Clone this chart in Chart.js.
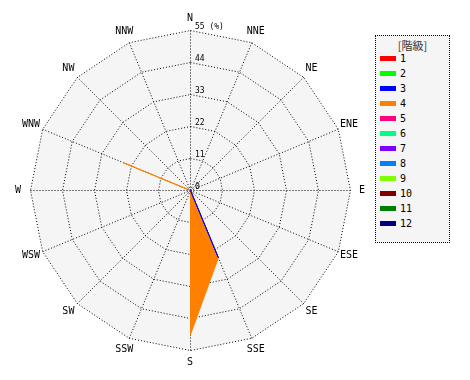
<!DOCTYPE html>
<html>
<head>
<meta charset="utf-8">
<script src="https://cdn.jsdelivr.net/npm/chart.js@4"></script>
<style>
  html, body { margin: 0; padding: 0; background: #fff; }
  #wrap { position: relative; width: 470px; height: 380px; }
  #rose { position: absolute; left: 0; top: 0; }
  #legend {
    position: absolute; left: 375px; top: 35px; width: 73px; height: 206px;
    border: 1px dotted #000; background: #f5f5f5;
    font: 10px "DejaVu Sans Mono", monospace; color: #000;
  }
  #legend .title {
    position: absolute; left: 0; width: 100%; top: 1px; text-align: center;
    font: 11px "Noto Sans CJK JP", sans-serif; color: #333;
  }
  #legend .row { position: absolute; left: 4px; height: 12px; line-height: 12px; }
  #legend .sw { display: inline-block; width: 16px; height: 5px; vertical-align: middle; margin-right: 4px; position: relative; top: -1px; }
</style>
</head>
<body>
<div id="wrap">
  <canvas id="rose" width="380" height="380"></canvas>
  <div id="legend"><div class="title">[階級]</div></div>
</div>
<script>
// wind rose — share (%) per direction and class

const directions = ["N", "NNE", "NE", "ENE", "E", "ESE", "SE", "SSE", "S", "SSW", "SW", "WSW", "W", "WNW", "NW", "NNW"];
const classNames = ["1", "2", "3", "4", "5", "6", "7", "8", "9", "10", "11", "12"];
const classColors = ["#ff0000", "#00ff00", "#0000ff", "#ff8000", "#ff0080", "#00ff80",
                     "#8000ff", "#0080ff", "#80ff00", "#800000", "#008000", "#000080"];

const class1  = [0, 0, 0, 0, 0, 0, 0, 0, 0, 0, 0, 0, 0, 0, 0, 0];
const class2  = [0, 0, 0, 0, 0, 0, 0, 0, 0, 0, 0, 0, 0, 0, 0, 0];
const class3  = [0, 0, 0, 0, 0, 0, 0, 25, 0, 0, 0, 0, 0, 0, 0, 0];
const class4  = [0, 0, 0, 0, 0, 0, 0, 25, 49.5, 0, 0, 0, 0, 25, 0, 0];
const class5  = [0, 0, 0, 0, 0, 0, 0, 0, 0, 0, 0, 0, 0, 0, 0, 0];
const class6  = [0, 0, 0, 0, 0, 0, 0, 0, 0, 0, 0, 0, 0, 0, 0, 0];
const class7  = [0, 0, 0, 0, 0, 0, 0, 0, 0, 0, 0, 0, 0, 0, 0, 0];
const class8  = [0, 0, 0, 0, 0, 0, 0, 0, 0, 0, 0, 0, 0, 0, 0, 0];
const class9  = [0, 0, 0, 0, 0, 0, 0, 0, 0, 0, 0, 0, 0, 0, 0, 0];
const class10 = [0, 0, 0, 0, 0, 0, 0, 0, 0, 0, 0, 0, 0, 0, 0, 0];
const class11 = [0, 0, 0, 0, 0, 0, 0, 0, 0, 0, 0, 0, 0, 0, 0, 0];
const class12 = [0, 0, 0, 0, 0, 0, 0, 0, 0, 0, 0, 0, 0, 0, 0, 0];

const tickValues = [0, 11, 22, 33, 44, 55];
const tickLabels = ["0", "11", "22", "33", "44", "55 (%)"];

const classData = [class1, class2, class3, class4, class5, class6,
                   class7, class8, class9, class10, class11, class12];

// half-pixel shift so the 1px grid lines land on whole pixels
const crisp = {
  id: "crisp",
  beforeDraw(chart) { chart.ctx.save(); chart.ctx.translate(0.5, 0.5); },
  afterDraw(chart) { chart.ctx.restore(); },
};

// direction names + tick labels, placed with the scale's own geometry
const roseText = {
  id: "roseText",
  afterDraw(chart) {
    const r = chart.scales.r;
    const ctx = chart.ctx;
    ctx.save();
    ctx.fillStyle = "#000";
    ctx.font = '10px "DejaVu Sans Mono"';
    ctx.textAlign = "center";
    ctx.textBaseline = "middle";
    directions.forEach((d, i) => {
      const p = r.getPointPosition(i, r.drawingArea + 12);
      ctx.fillText(d, p.x, p.y);
    });
    ctx.font = '8px "DejaVu Sans Mono"';
    ctx.textAlign = "left";
    ctx.textBaseline = "bottom";
    tickValues.forEach((v, i) => {
      const y = r.yCenter - r.getDistanceFromCenterForValue(v);
      ctx.fillText(tickLabels[i], r.xCenter + 5, y + 1);
    });
    ctx.restore();
  },
};

new Chart(document.getElementById("rose"), {
  type: "radar",
  data: {
    labels: directions,
    datasets: classNames.map((name, i) => ({
      label: name,
      data: classData[i],
      borderColor: classColors[i],
      backgroundColor: classColors[i],
      borderWidth: 1,
      pointRadius: 0,
      fill: "origin",
    })),
  },
  options: {
    responsive: false,
    animation: false,
    layout: { padding: 30 },
    plugins: { legend: { display: false }, tooltip: { enabled: false } },
    elements: { line: { tension: 0 } },
    scales: {
      r: {
        min: 0,
        max: 55,
        backgroundColor: "#f5f5f5",
        ticks: { display: false, stepSize: 11 },
        grid: { color: "#000", lineWidth: 1 },
        border: { dash: [1, 2] },
        angleLines: { color: "#000", lineWidth: 1, borderDash: [1, 2] },
        pointLabels: { display: false },
      },
    },
  },
  plugins: [crisp, roseText],
});

// legend box
const legend = document.getElementById("legend");
classNames.forEach((name, i) => {
  const row = document.createElement("div");
  row.className = "row";
  row.style.top = (17 + i * 15) + "px";
  row.innerHTML = `<span class="sw" style="background:${classColors[i]}"></span>${name}`;
  legend.appendChild(row);
});
</script>
</body>
</html>
